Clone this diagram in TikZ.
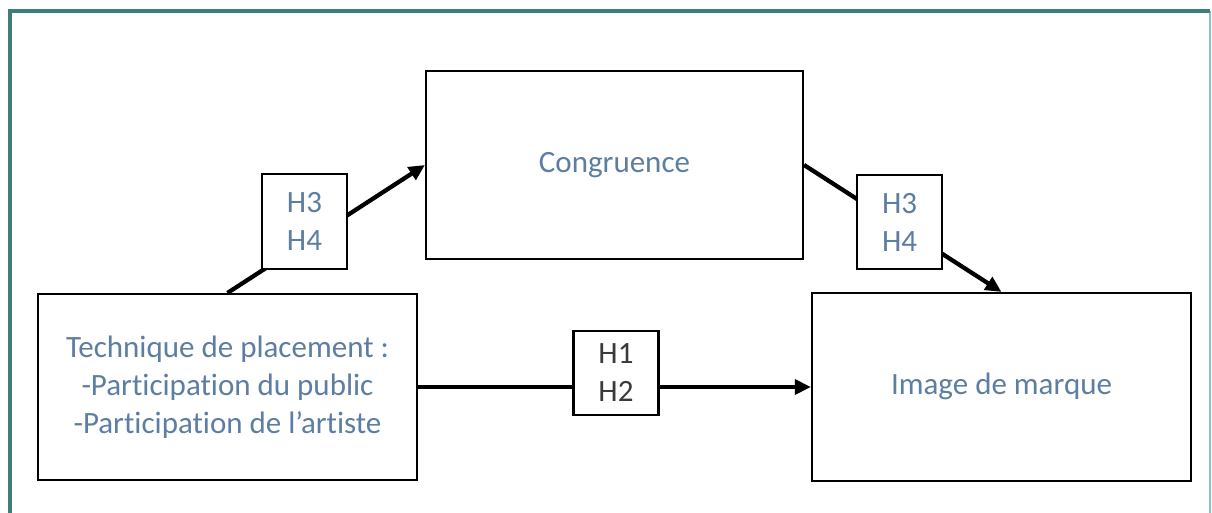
\documentclass[tikz,border=0pt]{standalone}
\usepackage{fontspec}
\setmainfont{Carlito}[Ligatures=NoCommon]
\usetikzlibrary{arrows.meta}
\definecolor{framecol}{HTML}{3F7D7B}
\definecolor{framelight}{HTML}{8FC3C3}
\definecolor{labelblue}{HTML}{5D7EA3}
\definecolor{labeldark}{HTML}{3A3A3A}
\begin{document}
\begin{tikzpicture}[x=0.75pt,y=-0.75pt,
  box/.style={draw=black,line width=1.6pt,fill=white,inner sep=0pt,
    align=center,text=labelblue,font=\fontsize{23.25}{28.5}\selectfont},
  hyp/.style={box,minimum width=63.75pt,minimum height=71pt},
  link/.style={line width=3.2pt,-{Triangle[length=12pt,width=11pt]}}]
  \useasboundingbox (0,0) rectangle (1212,513);
  \fill[white] (0,0) rectangle (1212,513);
  % outer frame, open at the bottom
  \draw[framelight,line width=1.2pt] (1210,11) -- (1210,520);
  \draw[framecol,line width=3pt] (10,520) -- (10,11) -- (1210,11);

  % main blocks
  \node[box,minimum width=284.25pt,minimum height=139.5pt] (tech) at (227.5,387)
    {Technique de placement :\\-Participation du public\\-Participation de l’artiste};
  \node[box,minimum width=282.75pt,minimum height=141pt] (cong) at (614.5,165) {\strut Congruence};
  \node[box,minimum width=284.25pt,minimum height=141pt] (img) at (1001.5,387) {\strut Image de marque};

  % connectors
  \draw[link] (tech.north) -- (cong.west);
  \draw[link] (cong.east) -- (img.north);
  \draw[link] (tech.east) -- (img.west);

  % hypothesis labels on the connectors
  \node[hyp] (h34a) at (304.5,221.5) {H3\\H4};
  \node[hyp] (h34b) at (899.5,222) {H3\\H4};
  \node[hyp,text=labeldark,minimum height=63pt] (h12) at (616,373) {H1\\H2};
\end{tikzpicture}
\end{document}
